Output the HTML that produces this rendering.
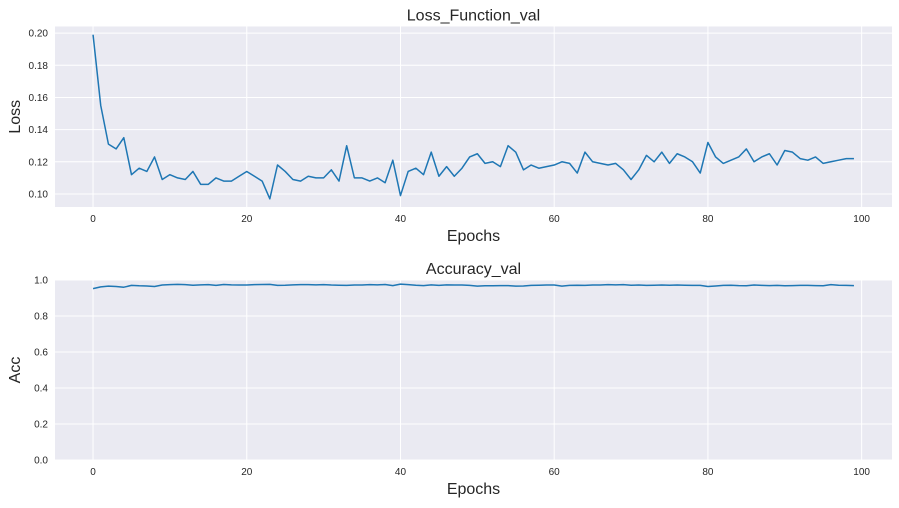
<!DOCTYPE html>
<html><head><meta charset="utf-8"><style>
body{margin:0;background:#fff;font-family:"Liberation Sans",sans-serif;}
svg text{font-family:"Liberation Sans",sans-serif;}
</style></head><body>
<svg id="chart" width="899" height="503" xmlns="http://www.w3.org/2000/svg"></svg>
<script>
const epochs = Array.from({length:100},(_,i)=>i);
const lossVals = [0.199,0.155,0.131,0.128,0.135,0.112,0.116,0.114,0.123,0.109,0.112,0.110,0.109,0.114,0.106,0.106,0.110,0.108,0.108,0.111,0.114,0.111,0.108,0.097,0.118,0.114,0.109,0.108,0.111,0.110,0.110,0.115,0.108,0.130,0.110,0.110,0.108,0.110,0.107,0.121,0.099,0.114,0.116,0.112,0.126,0.111,0.117,0.111,0.116,0.123,0.125,0.119,0.120,0.117,0.130,0.126,0.115,0.118,0.116,0.117,0.118,0.120,0.119,0.113,0.126,0.120,0.119,0.118,0.119,0.115,0.109,0.115,0.124,0.120,0.126,0.119,0.125,0.123,0.120,0.113,0.132,0.123,0.119,0.121,0.123,0.128,0.120,0.123,0.125,0.118,0.127,0.126,0.122,0.121,0.123,0.119,0.120,0.121,0.122,0.122];
const accVals = [0.952,0.962,0.966,0.964,0.960,0.970,0.968,0.967,0.964,0.972,0.974,0.976,0.974,0.971,0.973,0.974,0.970,0.975,0.973,0.972,0.972,0.974,0.975,0.976,0.970,0.971,0.973,0.974,0.974,0.973,0.974,0.972,0.971,0.970,0.972,0.972,0.974,0.973,0.975,0.969,0.977,0.974,0.971,0.969,0.973,0.970,0.973,0.972,0.972,0.970,0.966,0.968,0.968,0.969,0.969,0.966,0.967,0.970,0.971,0.972,0.972,0.966,0.970,0.971,0.970,0.972,0.972,0.974,0.973,0.974,0.971,0.972,0.970,0.971,0.972,0.971,0.972,0.971,0.970,0.970,0.964,0.967,0.970,0.971,0.969,0.968,0.972,0.970,0.969,0.970,0.968,0.969,0.970,0.970,0.969,0.968,0.974,0.971,0.970,0.969];
const xTicks = [0,20,40,60,80,100];
const lossTicks = [0.10,0.12,0.14,0.16,0.18,0.20];
const accTicks = [0.0,0.2,0.4,0.6,0.8,1.0];

const NS="http://www.w3.org/2000/svg";
const svg=document.getElementById('chart');
function mk(tag,attrs,parent){const e=document.createElementNS(NS,tag);for(const k in attrs)e.setAttribute(k,attrs[k]);(parent||svg).appendChild(e);return e;}

function panel(cfg){
  const {left,right,top,bottom,xmin,xmax,ymin,ymax,yTicks,vals,title,ylabel,prefix,dec}=cfg;
  const sx=v=>left+(v-xmin)/(xmax-xmin)*(right-left);
  const sy=v=>bottom-(v-ymin)/(ymax-ymin)*(bottom-top);
  const bg=mk('rect',{x:left,y:top,width:right-left,height:bottom-top,fill:'#eaeaf2'});
  
  
  xTicks.forEach(t=>{
    const l=mk('line',{x1:sx(t),x2:sx(t),y1:top,y2:bottom,stroke:'#fff','stroke-width':1});
    
    
    const tx=mk('text',{x:sx(t),y:bottom+15,'font-size':10,'text-anchor':'middle',fill:'#262626'});
    tx.textContent=t;
    
    
  });
  yTicks.forEach(t=>{
    const l=mk('line',{x1:left,x2:right,y1:sy(t),y2:sy(t),stroke:'#fff','stroke-width':1});
    
    
    const tx=mk('text',{x:left-7,y:sy(t)+3.5,'font-size':10,'text-anchor':'end',fill:'#262626'});
    tx.textContent=t.toFixed(dec);
    
    
  });
  const d=vals.map((v,i)=>(i?'L':'M')+sx(epochs[i]).toFixed(2)+','+sy(v).toFixed(2)).join('');
  const p=mk('path',{d:d,fill:'none',stroke:'#1f77b4','stroke-width':1.5,'stroke-linejoin':'round'});
  
  
  const tt=mk('text',{x:(left+right)/2,y:top-6,'font-size':16,'text-anchor':'middle',fill:'#262626'});
  tt.textContent=title;
  
  
  const xl=mk('text',{x:(left+right)/2,y:bottom+34,'font-size':16,'text-anchor':'middle',fill:'#262626'});
  xl.textContent='Epochs';
  
  
  const cy=(top+bottom)/2;
  const yl=mk('text',{x:20,y:cy,'font-size':16,'text-anchor':'middle',fill:'#262626',transform:'rotate(-90 20 '+cy+')'});
  yl.textContent=ylabel;
  
  
}
panel({left:55,right:892,top:26.5,bottom:207,xmin:-4.95,xmax:103.95,ymin:0.0919,ymax:0.2041,yTicks:lossTicks,vals:lossVals,title:'Loss_Function_val',ylabel:'Loss',prefix:'loss',dec:2});
panel({left:55,right:892,top:280,bottom:460,xmin:-4.95,xmax:103.95,ymin:0,ymax:1,yTicks:accTicks,vals:accVals,title:'Accuracy_val',ylabel:'Acc',prefix:'acc',dec:1});
</script>
</body></html>
